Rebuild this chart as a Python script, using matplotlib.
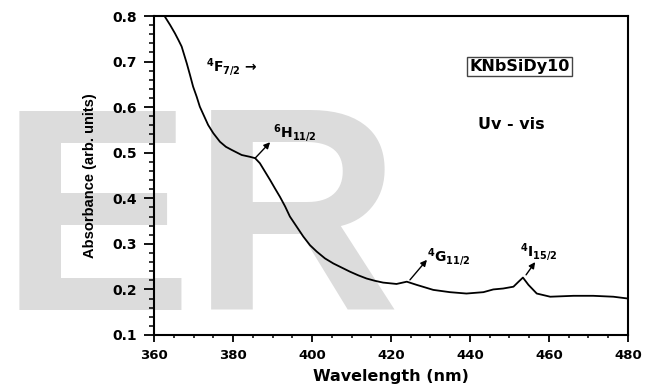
import matplotlib
matplotlib.use("Agg")
import matplotlib.pyplot as plt
from matplotlib.ticker import MultipleLocator

# data
wavelength = [362.8, 364.1, 365.3, 366.2, 367.0, 368.3, 369.1, 369.9, 370.8, 371.6,
              373.7, 375.0, 376.7, 378.2, 379.7, 382.2, 384.3, 385.6, 386.8, 389.4,
              390.6, 391.9, 393.2, 394.4, 396.1, 397.8, 399.5, 401.2, 403.3, 405.4,
              407.5, 409.6, 411.7, 413.8, 415.9, 418.0, 421.4, 424.0, 426.5, 430.7,
              434.9, 439.1, 443.4, 445.9, 448.4, 451.0, 452.3, 453.4, 454.8, 456.9,
              460.3, 466.2, 471.2, 476.3, 480.0]
absorbance = [0.798, 0.780, 0.762, 0.747, 0.733, 0.696, 0.671, 0.645, 0.623, 0.601,
              0.561, 0.543, 0.524, 0.513, 0.506, 0.495, 0.491, 0.488, 0.477, 0.440,
              0.422, 0.403, 0.382, 0.360, 0.338, 0.316, 0.297, 0.283, 0.268, 0.257,
              0.248, 0.239, 0.231, 0.224, 0.219, 0.215, 0.212, 0.217, 0.210, 0.199,
              0.194, 0.191, 0.194, 0.200, 0.202, 0.206, 0.217, 0.226, 0.210, 0.191,
              0.184, 0.186, 0.186, 0.184, 0.180]

# transition labels, their positions and arrows (tail on the curve, head at label)
labels = [r'$^{\mathbf{6}}\mathbf{H}_{\mathbf{11/2}}$',
          r'$^{\mathbf{4}}\mathbf{G}_{\mathbf{11/2}}$',
          r'$^{\mathbf{4}}\mathbf{I}_{\mathbf{15/2}}$']
label_xy = [(390.1, 0.534), (429.1, 0.260), (452.7, 0.271)]
arrow_tail = [(385.6, 0.488), (424.8, 0.221), (454.2, 0.232)]
arrow_head = [(389.4, 0.523), (429.1, 0.265), (456.5, 0.260)]

plt.rcParams['mathtext.fontset'] = 'dejavusans'
plt.rcParams['font.family'] = 'DejaVu Sans'
plt.rcParams['font.weight'] = 'bold'

fig = plt.figure(figsize=(6.54, 3.9), dpi=100)
fig.text(0, 80 / 390, 'ER', fontsize=208, family='Liberation Sans',
         color='#dcdcdc', ha='left', va='baseline', zorder=0)

ax = fig.add_axes([154 / 654, 55 / 390, 474 / 654, 319 / 390])
ax.set_zorder(2)
ax.patch.set_alpha(0)
ax.plot(wavelength, absorbance, color='k', lw=1.3)

ax.set_xlim(360, 480)
ax.set_ylim(0.1, 0.8)
ax.xaxis.set_major_locator(MultipleLocator(20))
ax.xaxis.set_minor_locator(MultipleLocator(5))
ax.yaxis.set_major_locator(MultipleLocator(0.1))
ax.yaxis.set_minor_locator(MultipleLocator(0.02))
ax.tick_params(axis='x', which='major', length=5, width=1.3, labelsize=9.5, pad=5)
ax.tick_params(axis='x', which='minor', length=2.5, width=1.1)
ax.tick_params(axis='y', which='major', length=7, width=1.3, labelsize=10, pad=5.5)
ax.tick_params(axis='y', which='minor', length=3.5, width=1.1)
for s in ax.spines.values():
    s.set_linewidth(1.5)

ax.set_xlabel('Wavelength (nm)', fontsize=11.5, fontweight='bold', labelpad=5)
ax.set_ylabel('Absorbance (arb. units)', fontsize=10.5, fontweight='bold',
              family='Liberation Sans', labelpad=11)

ax.text(373.2, 0.679, r'$^{\mathbf{4}}\mathbf{F}_{\mathbf{7/2}}$' + ' \u2192', fontsize=10,
        ha='left', va='baseline')
for t, xy, tail, head in zip(labels, label_xy, arrow_tail, arrow_head):
    ax.text(xy[0], xy[1], t, fontsize=10, ha='left', va='baseline')
    ax.annotate('', xy=head, xytext=tail,
                arrowprops=dict(arrowstyle='-|>', color='k', lw=1, mutation_scale=9,
                                shrinkA=0, shrinkB=0))

ax.text(452.5, 0.689, 'KNbSiDy10', fontsize=11.5, ha='center', va='center',
        bbox=dict(boxstyle='square,pad=0.15', fc='white', ec='#444444', lw=1))
ax.text(450.4, 0.561, 'Uv - vis', fontsize=11.5, ha='center', va='center')

fig.savefig('out.png', dpi=100)
